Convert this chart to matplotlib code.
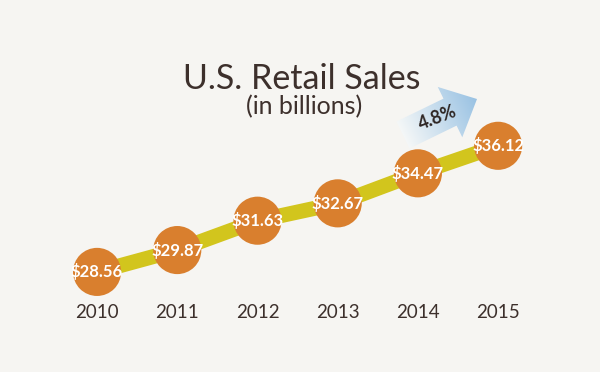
import numpy as np
import matplotlib
matplotlib.use("Agg")
import matplotlib.pyplot as plt
from matplotlib.patches import FancyArrow

# ==== data ====
years = ["2010", "2011", "2012", "2013", "2014", "2015"]
sales = [28.56, 29.87, 31.63, 32.67, 34.47, 36.12]
growth_label = "4.8%"
title = "U.S. Retail Sales"
subtitle = "(in billions)"

# ==== style ====
BG = "#f6f5f2"
LINE = "#d2c51d"
DOT = "#d97f2e"
TXT = "#3d302c"
plt.rcParams["font.family"] = ["Lato", "DejaVu Sans"]

fig = plt.figure(figsize=(6, 3.72), dpi=100, facecolor=BG)
ax = fig.add_axes([0, 0, 1, 1])
ax.set_facecolor(BG)

x = np.arange(len(years))
ax.plot(x, sales, color=LINE, lw=10.8, solid_capstyle="butt", zorder=2)
ax.scatter(x, sales, s=1200, color=DOT, edgecolor="none", zorder=3)
for xi, v in zip(x, sales):
    ax.text(xi, v, f"${v:.2f}", ha="center", va="center", color="white",
            fontsize=12, fontweight="bold", zorder=4)

# year labels under the points
for xi, yr in zip(x, years):
    ax.text(xi, 0.161, yr, transform=ax.get_xaxis_transform(), ha="center",
            va="center", color=TXT, fontsize=13.5)

ax.set_xlim(-1.21, 6.27)
ax.set_ylim(22.56, 44.86)
ax.axis("off")

# ==== title + growth arrow (pixel overlay) ====
ov = fig.add_axes([0, 0, 1, 1], facecolor="none")
ov.set_xlim(0, 600)
ov.set_ylim(372, 0)
ov.axis("off")

ov.text(302, 79, title, ha="center", va="center", color=TXT, fontsize=24.5)
ov.text(304, 107, subtitle, ha="center", va="center", color=TXT, fontsize=18)

tail = np.array([403.0, 135.0])
tip = np.array([477.0, 99.0])
d = tip - tail
arrow = FancyArrow(tail[0], tail[1], d[0], d[1], width=30, head_width=56,
                   head_length=30, length_includes_head=True,
                   facecolor="none", edgecolor="none")
ov.add_patch(arrow)

# gradient fill along the arrow direction
gx, gy = np.meshgrid(np.linspace(380, 490, 220), np.linspace(70, 160, 180))
u = (gx - tail[0]) * d[0] / np.hypot(*d) + (gy - tail[1]) * d[1] / np.hypot(*d)
t = np.clip(u / np.hypot(*d), 0, 1)
c0 = np.array([0.96, 0.97, 0.97])
c1 = np.array([0.60, 0.76, 0.89])
img = c0[None, None, :] * (1 - t[..., None]) + c1[None, None, :] * t[..., None]
im = ov.imshow(img, extent=[380, 490, 160, 70], aspect="auto", zorder=5)
im.set_clip_path(arrow)

ang = np.degrees(np.arctan2(-d[1], d[0]))
ov.text(438, 118, growth_label, ha="center", va="center", rotation=ang - 5,
        color="#2e2624", fontsize=13, fontweight="bold", zorder=6)

fig.savefig("out.png", dpi=100, facecolor=BG)
